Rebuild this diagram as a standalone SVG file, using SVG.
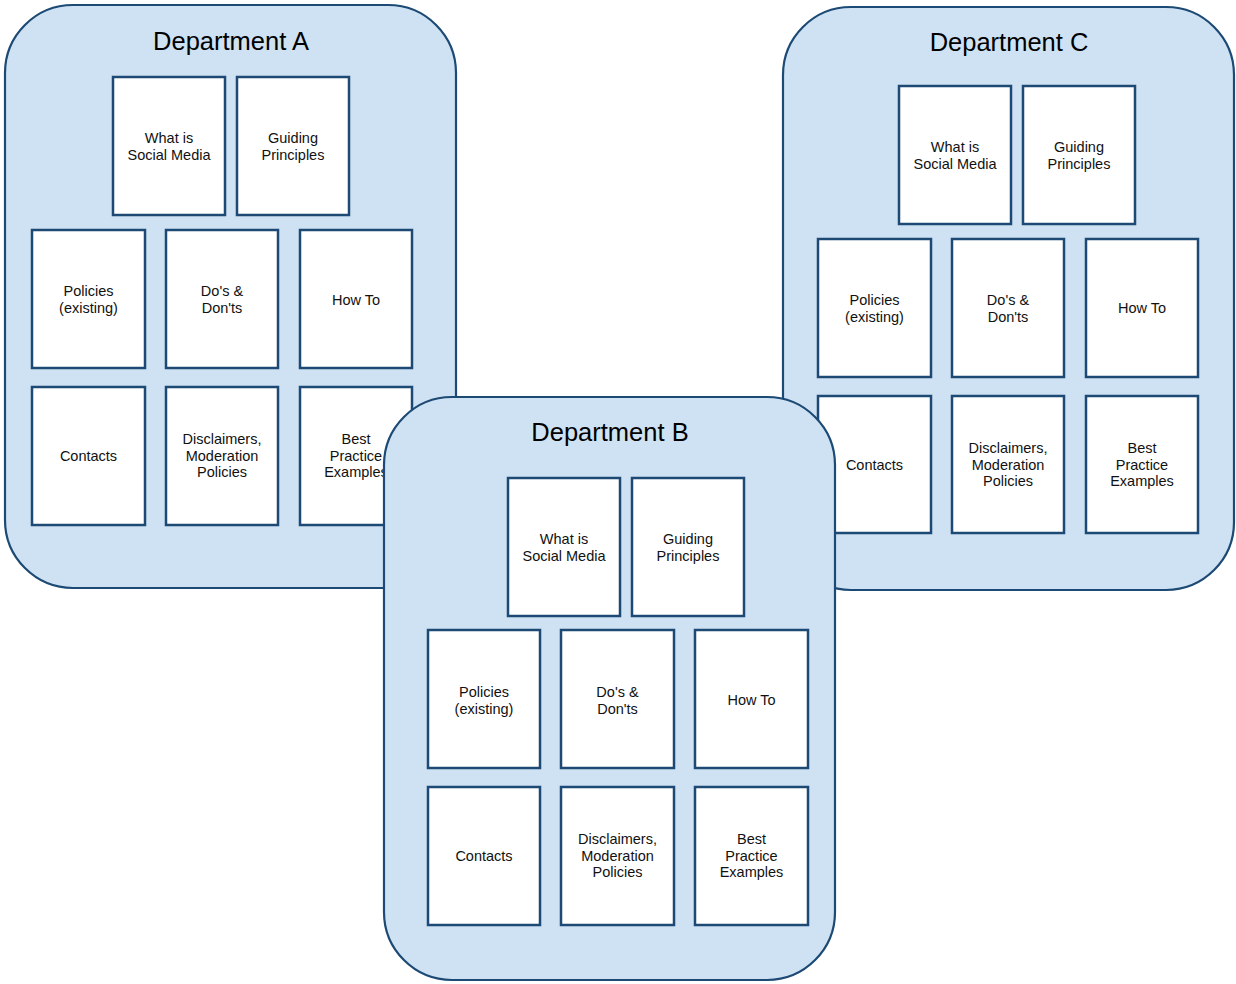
<svg xmlns="http://www.w3.org/2000/svg" width="1236" height="984" viewBox="0 0 1236 984">
<style>
.dept{fill:#cfe2f3;stroke:#1c4a74;stroke-width:2.2}
.card{fill:#ffffff;stroke:#1c4a74;stroke-width:2.5}
.title{font-family:"Liberation Sans",Arial,sans-serif;font-size:25.5px;fill:#000;text-anchor:middle}
.lbl{font-family:"Liberation Sans",Arial,sans-serif;font-size:14.5px;fill:#111;text-anchor:middle}
</style>
<rect width="1236" height="984" fill="#ffffff"/>
<g id="deptA">
<rect class="dept" x="5" y="5" width="451" height="583" rx="68" ry="68"/>
<text class="title" x="231" y="50">Department A</text>
<g id="A-what"><rect class="card" x="113" y="77" width="112" height="138"/><text class="lbl" x="169" y="143">What is</text><text class="lbl" x="169" y="160">Social Media</text></g>
<g id="A-guiding"><rect class="card" x="237" y="77" width="112" height="138"/><text class="lbl" x="293" y="143">Guiding</text><text class="lbl" x="293" y="160">Principles</text></g>
<g id="A-policies"><rect class="card" x="32" y="230" width="113" height="138"/><text class="lbl" x="88.5" y="296">Policies</text><text class="lbl" x="88.5" y="313">(existing)</text></g>
<g id="A-dos"><rect class="card" x="166" y="230" width="112" height="138"/><text class="lbl" x="222" y="296">Do's &amp;</text><text class="lbl" x="222" y="313">Don'ts</text></g>
<g id="A-howto"><rect class="card" x="300" y="230" width="112" height="138"/><text class="lbl" x="356" y="305">How To</text></g>
<g id="A-contacts"><rect class="card" x="32" y="387" width="113" height="138"/><text class="lbl" x="88.5" y="461">Contacts</text></g>
<g id="A-disclaimers"><rect class="card" x="166" y="387" width="112" height="138"/><text class="lbl" x="222" y="444">Disclaimers,</text><text class="lbl" x="222" y="461">Moderation</text><text class="lbl" x="222" y="477">Policies</text></g>
<g id="A-best"><rect class="card" x="300" y="387" width="112" height="138"/><text class="lbl" x="356" y="444">Best</text><text class="lbl" x="356" y="461">Practice</text><text class="lbl" x="356" y="477">Examples</text></g>
</g>
<g id="deptC">
<rect class="dept" x="783" y="7" width="451" height="583" rx="68" ry="68"/>
<text class="title" x="1009" y="51">Department C</text>
<g id="C-what"><rect class="card" x="899" y="86" width="112" height="138"/><text class="lbl" x="955" y="152">What is</text><text class="lbl" x="955" y="169">Social Media</text></g>
<g id="C-guiding"><rect class="card" x="1023" y="86" width="112" height="138"/><text class="lbl" x="1079" y="152">Guiding</text><text class="lbl" x="1079" y="169">Principles</text></g>
<g id="C-policies"><rect class="card" x="818" y="239" width="113" height="138"/><text class="lbl" x="874.5" y="305">Policies</text><text class="lbl" x="874.5" y="322">(existing)</text></g>
<g id="C-dos"><rect class="card" x="952" y="239" width="112" height="138"/><text class="lbl" x="1008" y="305">Do's &amp;</text><text class="lbl" x="1008" y="322">Don'ts</text></g>
<g id="C-howto"><rect class="card" x="1086" y="239" width="112" height="138"/><text class="lbl" x="1142" y="313">How To</text></g>
<g id="C-contacts"><rect class="card" x="818" y="396" width="113" height="137"/><text class="lbl" x="874.5" y="470">Contacts</text></g>
<g id="C-disclaimers"><rect class="card" x="952" y="396" width="112" height="137"/><text class="lbl" x="1008" y="453">Disclaimers,</text><text class="lbl" x="1008" y="470">Moderation</text><text class="lbl" x="1008" y="486">Policies</text></g>
<g id="C-best"><rect class="card" x="1086" y="396" width="112" height="137"/><text class="lbl" x="1142" y="453">Best</text><text class="lbl" x="1142" y="470">Practice</text><text class="lbl" x="1142" y="486">Examples</text></g>
</g>
<g id="deptB">
<rect class="dept" x="384" y="397" width="451" height="583" rx="68" ry="68"/>
<text class="title" x="610" y="441">Department B</text>
<g id="B-what"><rect class="card" x="508" y="478" width="112" height="138"/><text class="lbl" x="564" y="544">What is</text><text class="lbl" x="564" y="561">Social Media</text></g>
<g id="B-guiding"><rect class="card" x="632" y="478" width="112" height="138"/><text class="lbl" x="688" y="544">Guiding</text><text class="lbl" x="688" y="561">Principles</text></g>
<g id="B-policies"><rect class="card" x="428" y="630" width="112" height="138"/><text class="lbl" x="484" y="697">Policies</text><text class="lbl" x="484" y="714">(existing)</text></g>
<g id="B-dos"><rect class="card" x="561" y="630" width="113" height="138"/><text class="lbl" x="617.5" y="697">Do's &amp;</text><text class="lbl" x="617.5" y="714">Don'ts</text></g>
<g id="B-howto"><rect class="card" x="695" y="630" width="113" height="138"/><text class="lbl" x="751.5" y="705">How To</text></g>
<g id="B-contacts"><rect class="card" x="428" y="787" width="112" height="138"/><text class="lbl" x="484" y="861">Contacts</text></g>
<g id="B-disclaimers"><rect class="card" x="561" y="787" width="113" height="138"/><text class="lbl" x="617.5" y="844">Disclaimers,</text><text class="lbl" x="617.5" y="861">Moderation</text><text class="lbl" x="617.5" y="877">Policies</text></g>
<g id="B-best"><rect class="card" x="695" y="787" width="113" height="138"/><text class="lbl" x="751.5" y="844">Best</text><text class="lbl" x="751.5" y="861">Practice</text><text class="lbl" x="751.5" y="877">Examples</text></g>
</g>
<g id="connectors"></g>
</svg>
